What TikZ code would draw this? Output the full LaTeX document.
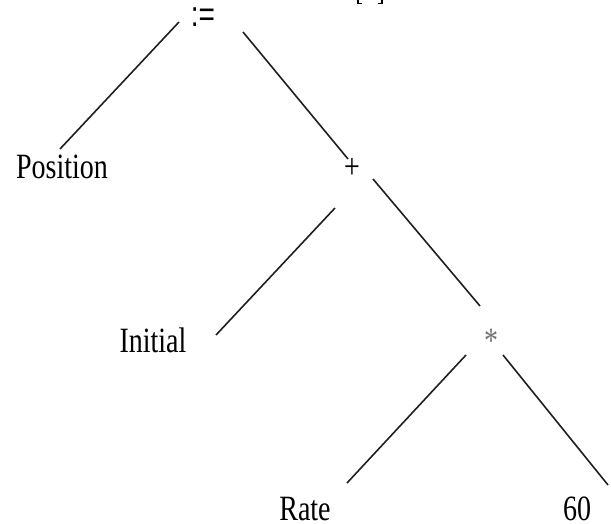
\documentclass[tikz,border=0pt]{standalone}
\usepackage{fontspec}
\setmainfont{Liberation Serif}
\newfontfamily\labsans{Liberation Sans}
\tikzset{
  lab/.style={anchor=base, inner sep=0pt, font=\fontsize{28}{30}\selectfont},
  edge/.style={draw=black!88, line width=1.6pt},
}
\newcommand{\tall}[1]{\scalebox{1}[1.27]{#1}}
\begin{document}
\begin{tikzpicture}[x=1pt,y=-1pt]
\useasboundingbox (0,0) rectangle (611,524);
\node[lab] (assign) at (203,27) {\labsans\tall{:=}};
\node[lab] (pos) at (62,179) {\tall{Position}};
\node[lab] (plus) at (352,179) {\tall{+}};
\node[lab] (init) at (153,352) {\tall{Initial}};
\node[lab, text=black!55] (times) at (491,352) {\tall{*}};
\node[lab, text depth=0pt] (rate) at (305,520) {\tall{Rate}};
\node[lab, text depth=0pt] (sixty) at (577,520) {\tall{60}};
% connector end points
\coordinate (a1) at (179,22);  \coordinate (p1) at (60,149);
\coordinate (a2) at (243,32);  \coordinate (q1) at (348,159);
\coordinate (b1) at (335,208); \coordinate (i1) at (216,335);
\coordinate (b2) at (373,179); \coordinate (t1) at (480,306);
\coordinate (c1) at (466,355); \coordinate (r1) at (347,483);
\coordinate (c2) at (503,355); \coordinate (s1) at (608,485);
\draw[edge] (a1) -- (p1);
\draw[edge] (a2) -- (q1);
\draw[edge] (b1) -- (i1);
\draw[edge] (b2) -- (t1);
\draw[edge] (c1) -- (r1);
\draw[edge] (c2) -- (s1);
% cut-off bracket fragments at the top edge
\draw[line width=1.3pt] (358,0) -- (358,3.5) -- (362,3.5);
\draw[line width=1.3pt] (382,0) -- (382,3.5) -- (378,3.5);
\end{tikzpicture}
\end{document}
